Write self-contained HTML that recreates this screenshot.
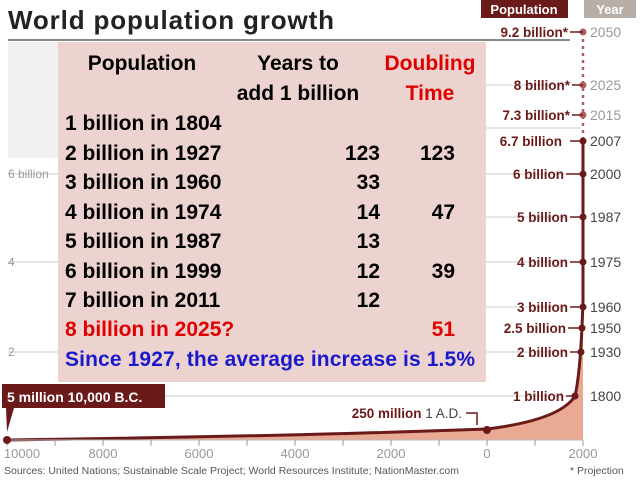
<!DOCTYPE html>
<html><head><style>
body{margin:0;background:#fff}
svg{display:block}
.t{font-family:"Liberation Sans",sans-serif;font-weight:bold;font-size:21px;fill:#000}
.r{fill:#e00000}
.lab{font-family:"Liberation Sans",sans-serif;font-size:13.5px;fill:#6b1a1a;font-weight:bold}
.yr{font-family:"Liberation Sans",sans-serif;font-size:14px;fill:#444}
.gy{font-family:"Liberation Sans",sans-serif;font-size:12px;fill:#999}
</style></head><body>
<svg width="640" height="480" viewBox="0 0 640 480">
<rect width="640" height="480" fill="#fff"/>
<text x="8" y="29" font-family="Liberation Sans,sans-serif" font-weight="bold" font-size="26" fill="#222" textLength="326">World population growth</text>
<line x1="8" y1="40" x2="570" y2="40" stroke="#888" stroke-width="2"/>
<rect x="481" y="0" width="87" height="18" fill="#6b1a1a"/>
<text x="524" y="14" text-anchor="middle" font-family="Liberation Sans,sans-serif" font-weight="bold" font-size="13" fill="#fff">Population</text>
<rect x="584" y="0" width="52" height="18" fill="#b8aea8"/>
<text x="610" y="14" text-anchor="middle" font-family="Liberation Sans,sans-serif" font-weight="bold" font-size="13" fill="#fff">Year</text>
<rect x="8" y="42" width="50" height="116" fill="#f0f0f0"/>
<g stroke="#ddd" stroke-width="1.5">
<line x1="8" y1="174" x2="565" y2="174"/><line x1="8" y1="262" x2="565" y2="262"/><line x1="8" y1="352" x2="565" y2="352"/>
<line x1="8" y1="396" x2="565" y2="396"/><line x1="480" y1="128" x2="580" y2="128"/>
<line x1="480" y1="85" x2="565" y2="85"/><line x1="480" y1="217" x2="565" y2="217"/><line x1="480" y1="307" x2="565" y2="307"/>
</g>
<text x="8" y="178" class="gy">6 billion</text>
<text x="8" y="266" class="gy">4</text>
<text x="8" y="356" class="gy">2</text>
<path d="M7,440 Q300,436 487,429 Q560,420 575,396 Q581,370 583,300 L583,141 L583,440 Z" fill="#e9a993"/>
<path d="M7,440 Q300,436 487,429 Q560,420 575,396 Q581,370 583,300 L583,141" fill="none" stroke="#6b1a1a" stroke-width="3"/>
<line x1="583" y1="32" x2="583" y2="141" stroke="#b06060" stroke-width="2.5" stroke-dasharray="3,4"/>
<line x1="7" y1="440" x2="583" y2="440" stroke="#bbb" stroke-width="1"/>
<g stroke="#999"><line x1="7" y1="440" x2="7" y2="446"/><line x1="55" y1="440" x2="55" y2="446"/><line x1="103" y1="440" x2="103" y2="446"/><line x1="151" y1="440" x2="151" y2="446"/><line x1="199" y1="440" x2="199" y2="446"/><line x1="247" y1="440" x2="247" y2="446"/><line x1="295" y1="440" x2="295" y2="446"/><line x1="343" y1="440" x2="343" y2="446"/><line x1="391" y1="440" x2="391" y2="446"/><line x1="439" y1="440" x2="439" y2="446"/><line x1="487" y1="440" x2="487" y2="446"/><line x1="535" y1="440" x2="535" y2="446"/><line x1="583" y1="440" x2="583" y2="446"/></g>
<g class="gy" text-anchor="middle" style="font-size:13px">
<text x="22" y="458">10000</text><text x="103" y="458">8000</text><text x="199" y="458">6000</text><text x="295" y="458">4000</text><text x="391" y="458">2000</text><text x="487" y="458">0</text><text x="583" y="458">2000</text></g>
<text x="4" y="474" font-family="Liberation Sans,sans-serif" font-size="10.5" fill="#555">Sources: United Nations; Sustainable Scale Project; World Resources Institute; NationMaster.com</text>
<text x="570" y="474" font-family="Liberation Sans,sans-serif" font-size="10.5" fill="#555">* Projection</text>
<g fill="#6b1a1a"><circle cx="7" cy="440" r="4"/><circle cx="487" cy="430" r="4"/><circle cx="575" cy="396" r="3.5"/>
<circle cx="581" cy="352" r="3.5"/><circle cx="582" cy="328" r="3.5"/><circle cx="583" cy="307" r="3.5"/><circle cx="583" cy="262" r="3.5"/><circle cx="583" cy="217" r="3.5"/><circle cx="583" cy="174" r="3.5"/><circle cx="583" cy="141" r="3.5"/></g>
<g fill="#b06060"><circle cx="583" cy="32" r="3.5"/><circle cx="583" cy="85" r="3.5"/><circle cx="583" cy="115" r="3.5"/></g>
<g stroke="#6b1a1a" stroke-width="1.5"><line x1="570" y1="32" x2="583" y2="32"/><line x1="572" y1="85" x2="583" y2="85"/><line x1="572" y1="115" x2="583" y2="115"/><line x1="570" y1="141" x2="583" y2="141"/><line x1="566" y1="174" x2="583" y2="174"/><line x1="570" y1="217" x2="583" y2="217"/><line x1="570" y1="262" x2="583" y2="262"/><line x1="570" y1="307" x2="583" y2="307"/><line x1="568" y1="328" x2="583" y2="328"/><line x1="570" y1="352" x2="583" y2="352"/><line x1="566" y1="396" x2="575" y2="396"/>
<polyline points="466,413 477,413 477,425" fill="none"/></g>
<g class="lab" text-anchor="end">
<text x="568" y="37">9.2 billion*</text><text x="570" y="90">8 billion*</text><text x="570" y="120">7.3 billion*</text>
<text x="562" y="146">6.7 billion</text><text x="564" y="179">6 billion</text><text x="568" y="222">5 billion</text><text x="568" y="267">4 billion</text>
<text x="568" y="312">3 billion</text><text x="566" y="333">2.5 billion</text><text x="568" y="357">2 billion</text><text x="564" y="401">1 billion</text>
<text x="462" y="418">250 million <tspan fill="#444" font-weight="normal">1 A.D.</tspan></text></g>
<g class="yr"><text x="590" y="37" fill="#999">2050</text><text x="590" y="90" fill="#999">2025</text><text x="590" y="120" fill="#999">2015</text>
<text x="590" y="146">2007</text><text x="590" y="179">2000</text><text x="590" y="222">1987</text><text x="590" y="267">1975</text><text x="590" y="312">1960</text><text x="590" y="333">1950</text><text x="590" y="357">1930</text><text x="590" y="401">1800</text></g>
<rect x="2" y="384" width="163" height="24" fill="#6b1a1a"/>
<polygon points="6,408 14,408 7,432" fill="#6b1a1a"/>
<text x="7" y="402" font-family="Liberation Sans,sans-serif" font-weight="bold" font-size="14" fill="#fff">5 million 10,000 B.C.</text>
<rect x="58" y="42" width="428" height="340" fill="#ecd3cf"/>
<g class="t">
<text x="142" y="70" text-anchor="middle">Population</text>
<text x="298" y="70" text-anchor="middle">Years to</text>
<text x="298" y="100" text-anchor="middle">add 1 billion</text>
<text x="430" y="70" text-anchor="middle" class="r">Doubling</text>
<text x="430" y="100" text-anchor="middle" class="r">Time</text>
<text x="65" y="130">1 billion in 1804</text>
<text x="65" y="160">2 billion in 1927</text><text x="380" y="160" text-anchor="end">123</text><text x="455" y="160" text-anchor="end">123</text>
<text x="65" y="189">3 billion in 1960</text><text x="380" y="189" text-anchor="end">33</text>
<text x="65" y="219">4 billion in 1974</text><text x="380" y="219" text-anchor="end">14</text><text x="455" y="219" text-anchor="end">47</text>
<text x="65" y="248">5 billion in 1987</text><text x="380" y="248" text-anchor="end">13</text>
<text x="65" y="278">6 billion in 1999</text><text x="380" y="278" text-anchor="end">12</text><text x="455" y="278" text-anchor="end">39</text>
<text x="65" y="307">7 billion in 2011</text><text x="380" y="307" text-anchor="end">12</text>
<text x="65" y="336" class="r">8 billion in 2025?</text><text x="455" y="336" text-anchor="end" class="r">51</text>
<text x="65" y="366" style="fill:#1a1acc" textLength="410">Since 1927, the average increase is 1.5%</text>
</g>
</svg>
</body></html>
